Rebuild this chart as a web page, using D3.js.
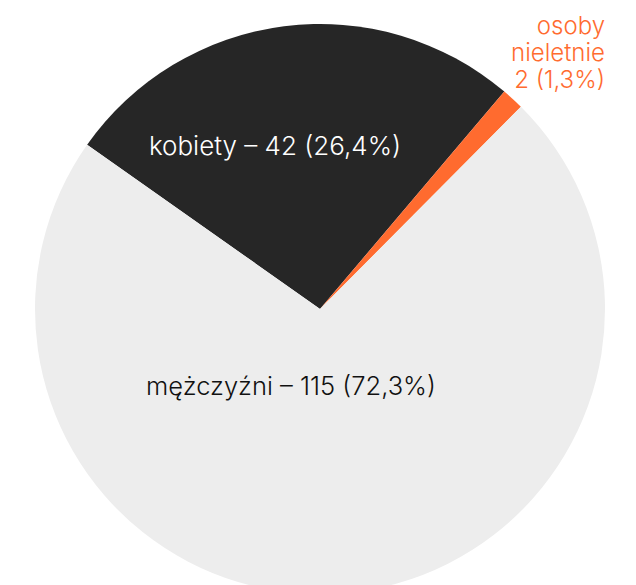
<!doctype html>
<html lang="pl">
  <head>
    <meta charset="utf-8">
    <title>Pie</title>
    <style>
      body{margin:0;background:#fff;}
      svg{display:block;}
    </style>
  </head>
  <body>
    <div class="holder"></div>
    <script src="https://cdn.jsdelivr.net/npm/d3@7"></script>
    <script>
      // data
      var categories = ["kobiety", "osoby nieletnie", "mężczyźni"];
      var values     = [42, 2, 115];
      var percents   = ["26,4%", "1,3%", "72,3%"];
      var colors     = ["#262626", "#ff6b2f", "#ededed"];

      var width = 636, height = 585,
          cx = 320, cy = 309, radius = 285;

      var svg = d3.select(".holder")
          .append("svg")
          .attr("width", width)
          .attr("height", height);

      var start = -54.8 * Math.PI / 180;

      var pie = d3.pie()
          .sort(null)
          .startAngle(start)
          .endAngle(start + 2 * Math.PI);

      var arc = d3.arc()
          .innerRadius(0)
          .outerRadius(radius);

      var g = svg.append("g")
          .attr("transform", "translate(" + cx + "," + cy + ")");

      g.selectAll("path")
          .data(pie(values))
          .enter()
          .append("path")
          .attr("d", arc)
          .style("fill", function(d, i){ return colors[i]; });

      var font = "Inter, 'Noto Sans', sans-serif";

      // slice labels
      g.append("text")
          .attr("x", -45)
          .attr("y", -154)
          .attr("text-anchor", "middle")
          .style("fill", "#fff")
          .style("font-family", font)
          .style("font-size", "26px")
          .style("font-weight", 300)
          .text(categories[0] + " – " + values[0] + " (" + percents[0] + ")");

      g.append("text")
          .attr("x", -29)
          .attr("y", 86)
          .attr("text-anchor", "middle")
          .style("fill", "#111")
          .style("font-family", font)
          .style("font-size", "25.5px")
          .style("font-weight", 300)
          .text(categories[2] + " – " + values[2] + " (" + percents[2] + ")");

      // outside label for the small slice
      var small = svg.append("text")
          .attr("text-anchor", "end")
          .style("fill", colors[1])
          .style("font-family", font)
          .style("font-size", "24px")
          .style("font-weight", 300);

      ["osoby", "nieletnie", values[1] + " (" + percents[1] + ")"].forEach(function(t, i){
        small.append("tspan")
          .attr("x", 605)
          .attr("y", 34 + i * 27)
          .text(t);
      });
    </script>
  </body>
</html>
